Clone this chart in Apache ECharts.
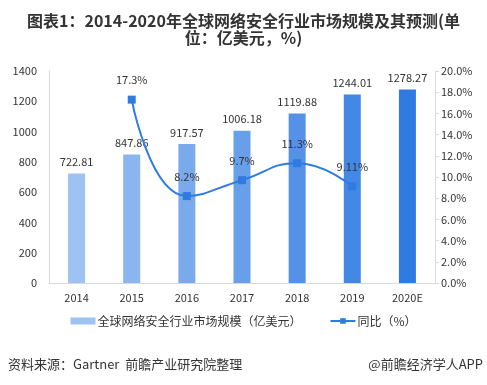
<!DOCTYPE html>
<html><head><meta charset="utf-8">
<script src="https://cdn.jsdelivr.net/npm/echarts@6/dist/echarts.min.js"></script>
<style>html,body{margin:0;padding:0;background:#fff}#c{width:487px;height:385px}</style>
</head><body><div id="c"></div>
<script>
var categories = ['2014','2015','2016','2017','2018','2019','2020E'];
var marketSize = [722.81, 847.86, 917.57, 1006.18, 1119.88, 1244.01, 1278.27];
var growth = [null, 17.3, 8.2, 9.7, 11.3, 9.11, null];
var barColors = ['#9DC3F3','#8AB5EF','#7AAAEC','#679FEA','#5592E7','#4388E5','#2F7BE2'];
var leftTicks = {min:0, max:1400, interval:200};
var rightTicks = {min:0, max:20, interval:2};

var chart = echarts.init(document.getElementById('c'));
var font = '"Microsoft YaHei","Noto Sans CJK SC",sans-serif';
var titleStyle = {fontSize:16, fontWeight:'bold', fill:'#333', fontFamily:font};
chart.setOption({
  animation:false,
  textStyle:{fontFamily:font},
  graphic:[
    {type:'text', left:'center', top:13,
     style:Object.assign({text:'图表1：2014-2020年全球网络安全行业市场规模及其预测(单'}, titleStyle)},
    {type:'text', left:'center', top:30,
     style:Object.assign({text:'位：亿美元，%)'}, titleStyle)}
  ],
  grid:{left:49, right:52, top:71, bottom:102},
  legend:{
    bottom:53, left:'center', itemWidth:25, itemHeight:7, itemGap:28,
    textStyle:{fontSize:12, color:'#333', fontFamily:font, padding:[0,0,0,-3]},
    data:[
      {name:'全球网络安全行业市场规模（亿美元）', icon:'rect', itemStyle:{color:'#9DC3F3'}},
      {name:'同比（%）'}
    ]
  },
  xAxis:{
    type:'category', data:categories,
    axisLine:{lineStyle:{color:'#d9d9d9'}},
    axisTick:{show:false},
    axisLabel:{color:'#333', fontSize:11, margin:9}
  },
  yAxis:[
    {type:'value', min:leftTicks.min, max:leftTicks.max, interval:leftTicks.interval,
     axisLine:{show:true, lineStyle:{color:'#d9d9d9'}}, axisTick:{show:false},
     splitLine:{show:false}, axisLabel:{color:'#333', fontSize:11, margin:12, formatter:function(v){return String(v);}}},
    {type:'value', min:rightTicks.min, max:rightTicks.max, interval:rightTicks.interval,
     axisLine:{show:true, lineStyle:{color:'#d9d9d9'}}, axisTick:{show:true, length:4, lineStyle:{color:'#d9d9d9'}},
     splitLine:{show:false},
     axisLabel:{color:'#333', fontSize:11, margin:6, formatter:function(v){return v.toFixed(1)+'%';}}}
  ],
  series:[
    {name:'全球网络安全行业市场规模（亿美元）', type:'bar', barWidth:17,
     data:marketSize.map(function(v,i){return {value:v, itemStyle:{color:barColors[i]}};}),
     label:{show:true, position:'top', color:'#333', fontSize:11, distance:6}},
    {name:'同比（%）', type:'line', yAxisIndex:1, smooth:true, data:growth,
     symbol:'rect', symbolSize:8, connectNulls:false,
     itemStyle:{color:'#2F7BE2'}, lineStyle:{color:'#2F7BE2', width:2},
     label:{show:true, position:'top', color:'#333', fontSize:11, distance:10,
            formatter:function(p){return p.value+'%';}}}
  ]
});
</script>
<div style="position:absolute;left:8px;top:354px;font:13px 'Microsoft YaHei','Noto Sans CJK SC',sans-serif;color:#333">资料来源：Gartner&nbsp;&nbsp;前瞻产业研究院整理</div>
<div style="position:absolute;right:4px;top:354px;font:13px 'Microsoft YaHei','Noto Sans CJK SC',sans-serif;color:#333">@前瞻经济学人APP</div>
</body></html>
